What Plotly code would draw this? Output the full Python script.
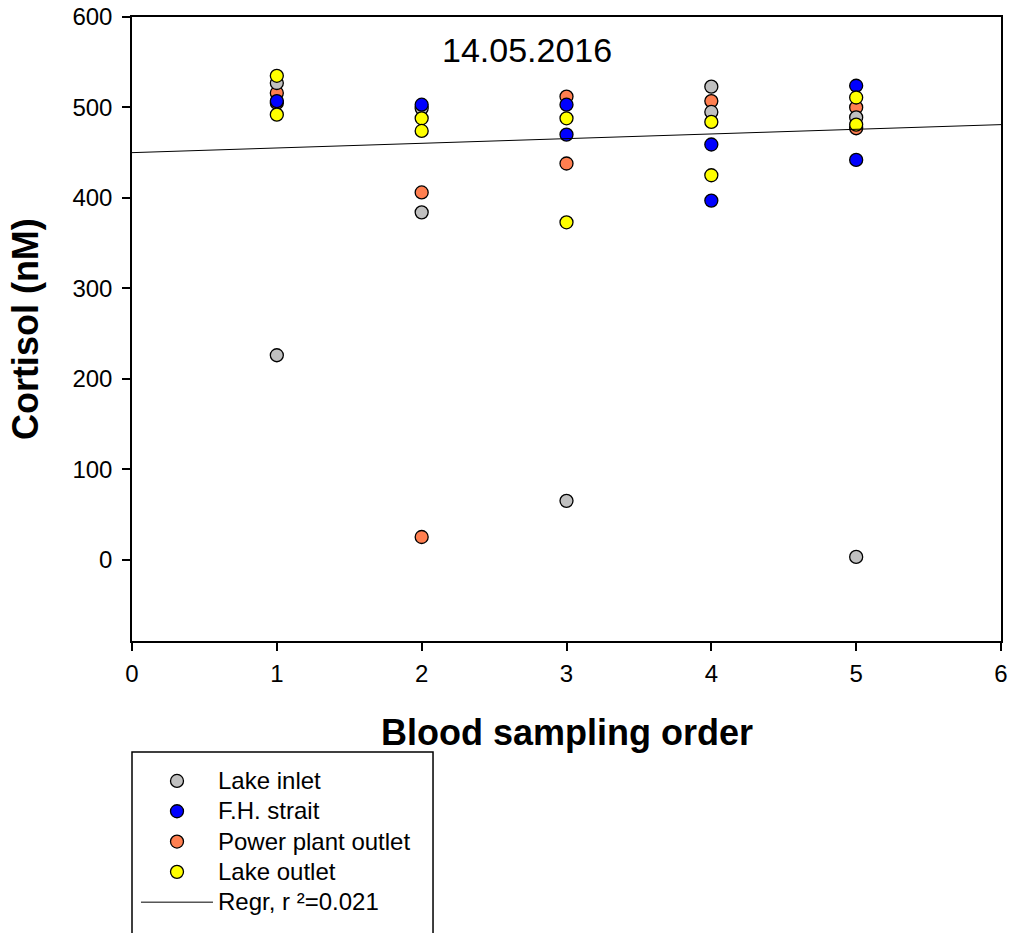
import plotly.graph_objects as go

# ---- data ----
lake_inlet_x = [1, 1, 2, 2, 3, 4, 4, 5, 5]
lake_inlet_y = [527, 226, 499, 384, 65, 523, 495, 489, 3]

fh_strait_x = [1, 2, 3, 3, 4, 4, 5, 5]
fh_strait_y = [507, 503, 503, 470, 459, 397, 524, 442]

power_plant_x = [1, 1, 2, 2, 3, 3, 4, 5, 5]
power_plant_y = [516, 505, 406, 25, 512, 438, 507, 500, 477]

lake_outlet_x = [1, 1, 2, 2, 3, 3, 4, 4, 5, 5]
lake_outlet_y = [535, 492, 488, 474, 488, 373, 484, 425, 511, 481]

regr_x = [0, 6]
regr_y = [450, 481]

x_ticks = [0, 1, 2, 3, 4, 5, 6]
y_ticks = [0, 100, 200, 300, 400, 500, 600]

FONT = "Liberation Sans, Arial, sans-serif"


def legend_label(s):
    return '<span style="font-size:24px">' + s + '</span>'


fig = go.Figure()

def add_pts(x, y, name, color, rank):
    fig.add_trace(go.Scatter(
        x=x, y=y, mode="markers", name=legend_label(name), legendrank=rank,
        marker=dict(size=13, color=color, line=dict(color="black", width=1.3)),
    ))

add_pts(power_plant_x, power_plant_y, "Power plant outlet", "#FF7F50", 3)
add_pts(lake_inlet_x, lake_inlet_y, "Lake inlet", "#C0C0C0", 1)
add_pts(fh_strait_x, fh_strait_y, "F.H. strait", "#0000FF", 2)
add_pts(lake_outlet_x, lake_outlet_y, "Lake outlet", "#FFFF00", 4)

fig.add_trace(go.Scatter(
    x=regr_x, y=regr_y, mode="lines", name=legend_label("Regr, r \u00b2=0.021"), legendrank=5,
    line=dict(color="black", width=1),
))

axis_common = dict(
    showline=True, linecolor="black", linewidth=1.5, mirror=True,
    showgrid=False, zeroline=False,
    ticks="outside", ticklen=8, tickwidth=1.5, tickcolor="black",
    tickfont=dict(family=FONT, size=24, color="black"),
    ticklabeloverflow="allow",
)

fig.update_xaxes(range=[0, 6], tickvals=x_ticks, ticklabelstandoff=2, **axis_common)
fig.update_yaxes(range=[-90, 600], tickvals=y_ticks, ticklabelstandoff=5, **axis_common)

fig.update_layout(
    width=1012, height=933,
    margin=dict(l=132, r=11, t=17, b=292, autoexpand=False),
    paper_bgcolor="white", plot_bgcolor="white",
    font=dict(family=FONT, color="black"),
    showlegend=True,
    hovermode=False,
    legend=dict(
        x=0.0046, y=-0.192, xanchor="left", yanchor="top",
        bgcolor="rgba(0,0,0,0)", borderwidth=0,
        font=dict(family=FONT, size=21, color="black"),
        itemwidth=72, tracegroupgap=0,
    ),
    shapes=[dict(
        type="rect", xref="paper", yref="paper",
        x0=0, x1=0.3464, y0=-0.1779, y1=-0.6,
        line=dict(color="black", width=1.5), fillcolor="rgba(0,0,0,0)",
    )],
    annotations=[
        dict(text="14.05.2016", x=2.73, y=563, xref="x", yref="y",
             showarrow=False, font=dict(family=FONT, size=34, color="black")),
        dict(text="<b>Blood sampling order</b>", x=0.5, y=-0.147, xref="paper", yref="paper",
             showarrow=False, yanchor="middle",
             font=dict(family=FONT, size=36, color="black")),
        dict(text="<b>Cortisol (nM)</b>", x=-0.123, y=0.5, xref="paper", yref="paper",
             showarrow=False, textangle=-90, xanchor="center", yanchor="middle",
             font=dict(family=FONT, size=36, color="black")),
    ],
)

fig.write_html(
    "out.html",
    config={"displayModeBar": False},
    post_script="document.body.style.margin='0';document.body.style.overflow='hidden';",
)
